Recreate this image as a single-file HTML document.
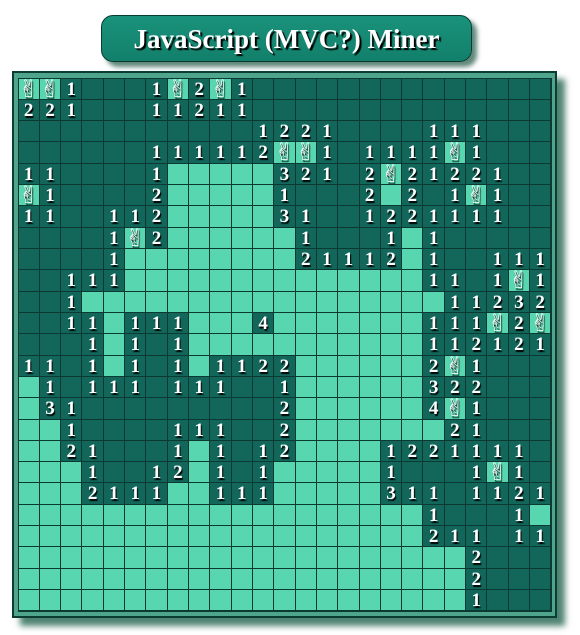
<!DOCTYPE html>
<html><head><meta charset="utf-8"><style>
html,body{margin:0;padding:0;background:#fff;width:580px;height:635px;overflow:hidden;position:relative}
.t{position:absolute;left:101px;top:15px;width:369px;height:45px;border:1.5px solid #0a3a30;border-radius:12px;background:linear-gradient(#1a927b,#12806b);box-shadow:5px 5px 5px rgba(10,70,50,.65);color:#fff;font:bold 27px "Liberation Serif",serif;text-align:center;line-height:46px;text-shadow:2px 2px 1px #000}
.bd{position:absolute;left:12px;top:71px;width:541px;height:543px;border:2px solid #0b3d33;background:#4ea58c;box-shadow:8px 8px 6px rgba(20,90,65,.75)}
.g{position:absolute;left:3.5px;top:4.5px;width:534px;height:534px;overflow:hidden;background:#0c3a32;display:grid;grid-template-columns:repeat(25,20.32px);grid-template-rows:repeat(25,20.32px);gap:1px;padding:1px;box-sizing:border-box}
.g b,.g u{display:block;overflow:hidden;min-height:0;min-width:0;text-decoration:none;font:bold 19px "Liberation Serif",serif;color:#fff;text-align:center;line-height:21px;text-shadow:1px 2px 1px #000}
.g b{background:#12675a}
.g u{background:#58d6af;font-family:"DejaVu Sans",sans-serif;font-size:24px;font-weight:normal;line-height:20px}
</style></head><body>
<div class="t">JavaScript (MVC?) Miner</div>
<div class="bd"><div class="g">
<u>✌</u><u>✌</u><b>1</b><b></b><b></b><b></b><b>1</b><u>✌</u><b>2</b><u>✌</u><b>1</b><b></b><b></b><b></b><b></b><b></b><b></b><b></b><b></b><b></b><b></b><b></b><b></b><b></b><b></b>
<b>2</b><b>2</b><b>1</b><b></b><b></b><b></b><b>1</b><b>1</b><b>2</b><b>1</b><b>1</b><b></b><b></b><b></b><b></b><b></b><b></b><b></b><b></b><b></b><b></b><b></b><b></b><b></b><b></b>
<b></b><b></b><b></b><b></b><b></b><b></b><b></b><b></b><b></b><b></b><b></b><b>1</b><b>2</b><b>2</b><b>1</b><b></b><b></b><b></b><b></b><b>1</b><b>1</b><b>1</b><b></b><b></b><b></b>
<b></b><b></b><b></b><b></b><b></b><b></b><b>1</b><b>1</b><b>1</b><b>1</b><b>1</b><b>2</b><u>✌</u><u>✌</u><b>1</b><b></b><b>1</b><b>1</b><b>1</b><b>1</b><u>✌</u><b>1</b><b></b><b></b><b></b>
<b>1</b><b>1</b><b></b><b></b><b></b><b></b><b>1</b><u></u><u></u><u></u><u></u><u></u><b>3</b><b>2</b><b>1</b><b></b><b>2</b><u>✌</u><b>2</b><b>1</b><b>2</b><b>2</b><b>1</b><b></b><b></b>
<u>✌</u><b>1</b><b></b><b></b><b></b><b></b><b>2</b><u></u><u></u><u></u><u></u><u></u><b>1</b><b></b><b></b><b></b><b>2</b><u></u><b>2</b><b></b><b>1</b><u>✌</u><b>1</b><b></b><b></b>
<b>1</b><b>1</b><b></b><b></b><b>1</b><b>1</b><b>2</b><u></u><u></u><u></u><u></u><u></u><b>3</b><b>1</b><b></b><b></b><b>1</b><b>2</b><b>2</b><b>1</b><b>1</b><b>1</b><b>1</b><b></b><b></b>
<b></b><b></b><b></b><b></b><b>1</b><u>✌</u><b>2</b><u></u><u></u><u></u><u></u><u></u><u></u><b>1</b><b></b><b></b><b></b><b>1</b><u></u><b>1</b><b></b><b></b><b></b><b></b><b></b>
<b></b><b></b><b></b><b></b><b>1</b><u></u><u></u><u></u><u></u><u></u><u></u><u></u><u></u><b>2</b><b>1</b><b>1</b><b>1</b><b>2</b><u></u><b>1</b><b></b><b></b><b>1</b><b>1</b><b>1</b>
<b></b><b></b><b>1</b><b>1</b><b>1</b><u></u><u></u><u></u><u></u><u></u><u></u><u></u><u></u><u></u><u></u><u></u><u></u><u></u><u></u><b>1</b><b>1</b><b></b><b>1</b><u>✌</u><b>1</b>
<b></b><b></b><b>1</b><u></u><u></u><u></u><u></u><u></u><u></u><u></u><u></u><u></u><u></u><u></u><u></u><u></u><u></u><u></u><u></u><u></u><b>1</b><b>1</b><b>2</b><b>3</b><b>2</b>
<b></b><b></b><b>1</b><b>1</b><u></u><b>1</b><b>1</b><b>1</b><u></u><u></u><u></u><b>4</b><u></u><u></u><u></u><u></u><u></u><u></u><u></u><b>1</b><b>1</b><b>1</b><u>✌</u><b>2</b><u>✌</u>
<b></b><b></b><b></b><b>1</b><u></u><b>1</b><b></b><b>1</b><u></u><u></u><u></u><u></u><u></u><u></u><u></u><u></u><u></u><u></u><u></u><b>1</b><b>1</b><b>2</b><b>1</b><b>2</b><b>1</b>
<b>1</b><b>1</b><b></b><b>1</b><u></u><b>1</b><b></b><b>1</b><u></u><b>1</b><b>1</b><b>2</b><b>2</b><u></u><u></u><u></u><u></u><u></u><u></u><b>2</b><u>✌</u><b>1</b><b></b><b></b><b></b>
<u></u><b>1</b><b></b><b>1</b><b>1</b><b>1</b><b></b><b>1</b><b>1</b><b>1</b><b></b><b></b><b>1</b><u></u><u></u><u></u><u></u><u></u><u></u><b>3</b><b>2</b><b>2</b><b></b><b></b><b></b>
<u></u><b>3</b><b>1</b><b></b><b></b><b></b><b></b><b></b><b></b><b></b><b></b><b></b><b>2</b><u></u><u></u><u></u><u></u><u></u><u></u><b>4</b><u>✌</u><b>1</b><b></b><b></b><b></b>
<u></u><u></u><b>1</b><b></b><b></b><b></b><b></b><b>1</b><b>1</b><b>1</b><b></b><b></b><b>2</b><u></u><u></u><u></u><u></u><u></u><u></u><u></u><b>2</b><b>1</b><b></b><b></b><b></b>
<u></u><u></u><b>2</b><b>1</b><b></b><b></b><b></b><b>1</b><u></u><b>1</b><b></b><b>1</b><b>2</b><u></u><u></u><u></u><u></u><b>1</b><b>2</b><b>2</b><b>1</b><b>1</b><b>1</b><b>1</b><b></b>
<u></u><u></u><u></u><b>1</b><b></b><b></b><b>1</b><b>2</b><u></u><b>1</b><b></b><b>1</b><u></u><u></u><u></u><u></u><u></u><b>1</b><b></b><b></b><b></b><b>1</b><u>✌</u><b>1</b><b></b>
<u></u><u></u><u></u><b>2</b><b>1</b><b>1</b><b>1</b><u></u><u></u><b>1</b><b>1</b><b>1</b><u></u><u></u><u></u><u></u><u></u><b>3</b><b>1</b><b>1</b><b></b><b>1</b><b>1</b><b>2</b><b>1</b>
<u></u><u></u><u></u><u></u><u></u><u></u><u></u><u></u><u></u><u></u><u></u><u></u><u></u><u></u><u></u><u></u><u></u><u></u><u></u><b>1</b><b></b><b></b><b></b><b>1</b><u></u>
<u></u><u></u><u></u><u></u><u></u><u></u><u></u><u></u><u></u><u></u><u></u><u></u><u></u><u></u><u></u><u></u><u></u><u></u><u></u><b>2</b><b>1</b><b>1</b><b></b><b>1</b><b>1</b>
<u></u><u></u><u></u><u></u><u></u><u></u><u></u><u></u><u></u><u></u><u></u><u></u><u></u><u></u><u></u><u></u><u></u><u></u><u></u><u></u><u></u><b>2</b><b></b><b></b><b></b>
<u></u><u></u><u></u><u></u><u></u><u></u><u></u><u></u><u></u><u></u><u></u><u></u><u></u><u></u><u></u><u></u><u></u><u></u><u></u><u></u><u></u><b>2</b><b></b><b></b><b></b>
<u></u><u></u><u></u><u></u><u></u><u></u><u></u><u></u><u></u><u></u><u></u><u></u><u></u><u></u><u></u><u></u><u></u><u></u><u></u><u></u><u></u><b>1</b><b></b><b></b><b></b>
</div></div>
</body></html>
